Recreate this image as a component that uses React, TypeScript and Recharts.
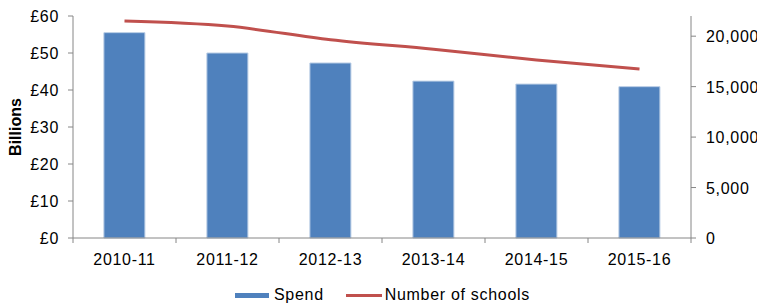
import { Bar, ComposedChart, Legend, Line, XAxis, YAxis } from 'recharts';

const years = ['2010-11', '2011-12', '2012-13', '2013-14', '2014-15', '2015-16'];
const spend = [55.5, 50.0, 47.3, 42.4, 41.6, 40.9];
const schools = [21500, 21000, 19650, 18700, 17650, 16750];
const spendTicks = [0, 10, 20, 30, 40, 50, 60];
const schoolTicks = [0, 5000, 10000, 15000, 20000];

const W = 757;
const H = 305;
const LEFT = 73;
const RIGHT = 66;
const BAND = (W - LEFT - RIGHT) / years.length;

const FONT = '"Liberation Sans", Arial, sans-serif';
const AXIS = '#868686';
const BLUE = '#4F81BD';
const RED = '#C0504D';

const data = years.map((year, i) => ({ year, spend: spend[i], schools: schools[i] }));

function YearTick(props: any) {
  const { x, y, payload, index } = props;
  const last = index === years.length - 1;
  return (
    <g>
      <line x1={x - BAND / 2} x2={x - BAND / 2} y1={y - 8} y2={y - 3} stroke={AXIS} />
      {last && <line x1={x + BAND / 2} x2={x + BAND / 2} y1={y - 8} y2={y - 3} stroke={AXIS} />}
      <text x={x} y={y + 19} textAnchor="middle" fontSize={16} letterSpacing={0.7} fill="#000" fontFamily={FONT}>
        {payload.value}
      </text>
    </g>
  );
}

function SchoolTick(props: any) {
  const { x, y, payload } = props;
  return (
    <text x={x + 1} y={y + 6} textAnchor="start" fontSize={16} letterSpacing={0.7} fill="#000" fontFamily={FONT}>
      {Number(payload.value).toLocaleString('en-GB')}
    </text>
  );
}

function KeyRow() {
  return (
    <div
      style={{
        display: 'flex',
        justifyContent: 'center',
        alignItems: 'center',
        fontFamily: FONT,
        fontSize: 16,
        letterSpacing: 0.7,
        color: '#000',
        paddingLeft: 8,
        paddingTop: 11,
      }}
    >
      <span style={{ display: 'inline-block', width: 34, height: 5, background: BLUE, marginRight: 5 }} />
      <span style={{ marginRight: 22 }}>Spend</span>
      <span style={{ display: 'inline-block', width: 36, height: 3, background: RED, marginRight: 3 }} />
      <span>Number of schools</span>
    </div>
  );
}

export default function App() {
  return (
    <div style={{ position: 'absolute', left: 0, top: 0, width: W, height: H, background: '#fff' }}>
      <ComposedChart
        width={W}
        height={H}
        data={data}
        margin={{ top: 16, right: 0, bottom: 0, left: 0 }}
        barCategoryGap="30%"
      >
        <XAxis
          dataKey="year"
          xAxisId="x"
          height={37}
          axisLine={{ stroke: AXIS }}
          tickLine={false}
          tick={<YearTick />}
          interval={0}
        />
        <YAxis
          yAxisId="spend"
          width={LEFT}
          domain={[0, 60]}
          ticks={spendTicks}
          tickFormatter={(v) => `£${v}`}
          axisLine={{ stroke: AXIS }}
          tickLine={{ stroke: AXIS }}
          tickSize={5}
          tickMargin={9}
          tick={{ fontSize: 16, fill: '#000', fontFamily: FONT, letterSpacing: 0.7 }}
          label={{
            value: 'Billions',
            angle: -90,
            position: 'insideLeft',
            offset: 15,
            style: { fontSize: 16, fontWeight: 'bold', fill: '#000', fontFamily: FONT, textAnchor: 'middle' },
          }}
        />
        <YAxis
          yAxisId="schools"
          orientation="right"
          width={RIGHT}
          domain={[0, 22000]}
          ticks={schoolTicks}
          axisLine={{ stroke: AXIS }}
          tickLine={{ stroke: AXIS }}
          tickSize={5}
          tickMargin={9}
          tick={<SchoolTick />}
        />
        <Legend verticalAlign="bottom" height={30} content={() => <KeyRow />} />
        <Bar
          xAxisId="x"
          yAxisId="spend"
          dataKey="spend"
          name="Spend"
          fill={BLUE}
          stroke="#B9CDE5"
          strokeWidth={1}
          isAnimationActive={false}
        />
        <Line
          xAxisId="x"
          yAxisId="schools"
          dataKey="schools"
          name="Number of schools"
          type="monotone"
          stroke={RED}
          strokeWidth={3}
          dot={false}
          isAnimationActive={false}
        />
      </ComposedChart>
    </div>
  );
}
